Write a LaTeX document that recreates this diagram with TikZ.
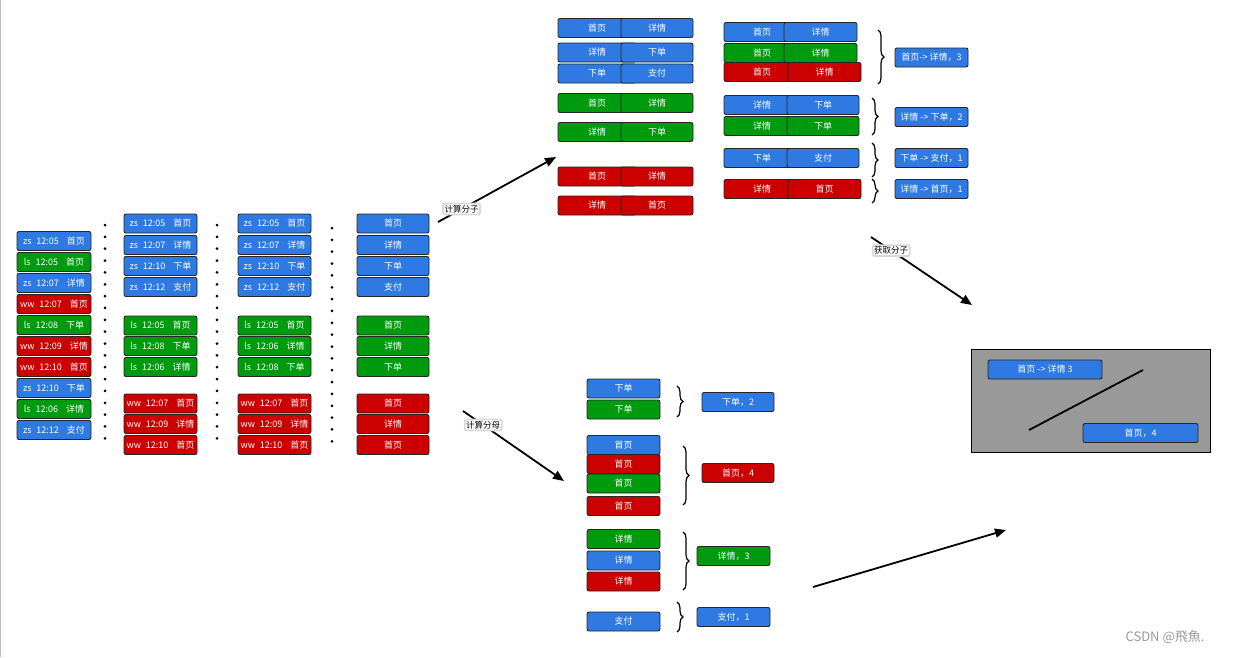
\documentclass[tikz,border=0pt]{standalone}
\usepackage{fontspec}
\setmainfont{Noto Sans CJK SC}
\usetikzlibrary{arrows.meta,decorations.pathreplacing}
\definecolor{cblue}{HTML}{2E7AE2}
\definecolor{cgreen}{HTML}{009A0E}
\definecolor{cred}{HTML}{CC0000}
\definecolor{cgray}{HTML}{999999}
\newcommand\rowtext[3]{#1\hspace{5pt}#2\hspace{8pt}#3}
\begin{document}
\begin{tikzpicture}[x=1pt,y=-1pt,
  box/.style={draw=black!85, line width=0.9pt, rounded corners=2pt, text=white,
    font=\fontsize{9}{9}\selectfont, minimum height=19pt, inner sep=0pt, anchor=center},
  bb/.style={box, fill=cblue}, bg/.style={box, fill=cgreen}, br/.style={box, fill=cred},
  w/.style={minimum width=#1},
  dotcol/.style={line width=3pt, line cap=round, dash pattern=on 0pt off 11.85pt},
  brc/.style={decorate, decoration={brace, amplitude=6pt}, line width=1.2pt},
  arr/.style={line width=1.8pt, -{Triangle[length=11pt,width=9pt]}},
  lbl/.style={fill=white, draw=black!15, rounded corners=2pt, inner sep=1.5pt, text=black,
    font=\fontsize{8.5}{8.5}\selectfont, pos=0.2}
]
\useasboundingbox (0,0) rectangle (1236,657);
\draw[black!25, line width=0.8pt] (0.5,0) -- (0.5,657);

% ---- column 1 (raw records)
\node[bb,w=74pt] (L1) at (54,241) {\rowtext{zs}{12:05}{首页}};
\node[bg,w=74pt] (L2) at (54,262) {\rowtext{ls}{12:05}{首页}};
\node[bb,w=74pt] (L3) at (54,283) {\rowtext{zs}{12:07}{详情}};
\node[br,w=74pt] (L4) at (54,304) {\rowtext{ww}{12:07}{首页}};
\node[bg,w=74pt] (L5) at (54,325) {\rowtext{ls}{12:08}{下单}};
\node[br,w=74pt] (L6) at (54,346) {\rowtext{ww}{12:09}{详情}};
\node[br,w=74pt] (L7) at (54,367) {\rowtext{ww}{12:10}{首页}};
\node[bb,w=74pt] (L8) at (54,388) {\rowtext{zs}{12:10}{下单}};
\node[bg,w=74pt] (L9) at (54,409) {\rowtext{ls}{12:06}{详情}};
\node[bb,w=74pt] (L10) at (54,430) {\rowtext{zs}{12:12}{支付}};

\draw[dotcol] (105,225) -- (105,441);
\draw[dotcol] (217,225) -- (217,441);
\draw[dotcol] (332,228) -- (332,444);

% ---- column 2 (grouped)
\node[bb,w=73pt] (M1) at (160.5,223.5) {\rowtext{zs}{12:05}{首页}};
\node[bb,w=73pt] (M2) at (160.5,245) {\rowtext{zs}{12:07}{详情}};
\node[bb,w=73pt] (M3) at (160.5,266) {\rowtext{zs}{12:10}{下单}};
\node[bb,w=73pt] (M4) at (160.5,287) {\rowtext{zs}{12:12}{支付}};
\node[bg,w=73pt] (M5) at (160.5,325.5) {\rowtext{ls}{12:05}{首页}};
\node[bg,w=73pt] (M6) at (160.5,346) {\rowtext{ls}{12:08}{下单}};
\node[bg,w=73pt] (M7) at (160.5,367) {\rowtext{ls}{12:06}{详情}};
\node[br,w=73pt] (M8) at (160.5,403.5) {\rowtext{ww}{12:07}{首页}};
\node[br,w=73pt] (M9) at (160.5,424) {\rowtext{ww}{12:09}{详情}};
\node[br,w=73pt] (M10) at (160.5,445) {\rowtext{ww}{12:10}{首页}};

% ---- column 3 (sorted)
\node[bb,w=73pt] (S1) at (274.5,223.5) {\rowtext{zs}{12:05}{首页}};
\node[bb,w=73pt] (S2) at (274.5,245) {\rowtext{zs}{12:07}{详情}};
\node[bb,w=73pt] (S3) at (274.5,266) {\rowtext{zs}{12:10}{下单}};
\node[bb,w=73pt] (S4) at (274.5,287) {\rowtext{zs}{12:12}{支付}};
\node[bg,w=73pt] (S5) at (274.5,325.5) {\rowtext{ls}{12:05}{首页}};
\node[bg,w=73pt] (S6) at (274.5,346) {\rowtext{ls}{12:06}{详情}};
\node[bg,w=73pt] (S7) at (274.5,367) {\rowtext{ls}{12:08}{下单}};
\node[br,w=73pt] (S8) at (274.5,403.5) {\rowtext{ww}{12:07}{首页}};
\node[br,w=73pt] (S9) at (274.5,424) {\rowtext{ww}{12:09}{详情}};
\node[br,w=73pt] (S10) at (274.5,445) {\rowtext{ww}{12:10}{首页}};

% ---- column 4 (pages)
\node[bb,w=72pt] (P1) at (393,223.5) {首页};
\node[bb,w=72pt] (P2) at (393,245) {详情};
\node[bb,w=72pt] (P3) at (393,266) {下单};
\node[bb,w=72pt] (P4) at (393,287) {支付};
\node[bg,w=72pt] (P5) at (393,325.5) {首页};
\node[bg,w=72pt] (P6) at (393,346) {详情};
\node[bg,w=72pt] (P7) at (393,367) {下单};
\node[br,w=72pt] (P8) at (393,403.5) {首页};
\node[br,w=72pt] (P9) at (393,424) {详情};
\node[br,w=72pt] (P10) at (393,445) {首页};

% ---- top: page pairs
\node[bb,w=78pt] (A1l) at (597,28) {首页};      \node[bb,w=72pt] (A1r) at (657,28) {详情};
\node[bb,w=78pt] (A2l) at (597,52.5) {详情};    \node[bb,w=72pt] (A2r) at (657,52.5) {下单};
\node[bb,w=78pt] (A3l) at (597,73.5) {下单};    \node[bb,w=72pt] (A3r) at (657,73.5) {支付};
\node[bg,w=78pt] (A4l) at (597,103) {首页};     \node[bg,w=72pt] (A4r) at (657,103) {详情};
\node[bg,w=78pt] (A5l) at (597,132) {详情};     \node[bg,w=72pt] (A5r) at (657,132) {下单};
\node[br,w=78pt] (A6l) at (597,176.5) {首页};   \node[br,w=72pt] (A6r) at (657,176.5) {详情};
\node[br,w=78pt] (A7l) at (597,205.5) {详情};   \node[br,w=72pt] (A7r) at (657,205.5) {首页};

% ---- top: grouped pairs
\node[bb,w=76pt] (B1l) at (762,32) {首页};    \node[bb,w=73pt] (B1r) at (820.5,32) {详情};
\node[bg,w=76pt] (B2l) at (762,53) {首页};    \node[bg,w=73pt] (B2r) at (820.5,53) {详情};
\node[br,w=76pt] (B3l) at (762,72) {首页};    \node[br,w=73pt] (B3r) at (824.5,72) {详情};
\node[bb,w=76pt] (B4l) at (762,105) {详情};   \node[bb,w=72pt] (B4r) at (823,105) {下单};
\node[bg,w=76pt] (B5l) at (762,126) {详情};   \node[bg,w=72pt] (B5r) at (823,126) {下单};
\node[bb,w=76pt] (B6l) at (762,158) {下单};   \node[bb,w=72pt] (B6r) at (823,158) {支付};
\node[br,w=76pt] (B7l) at (762,189) {详情};   \node[br,w=73pt] (B7r) at (824.5,189) {首页};

\draw[brc] (878,30) -- (878,84);
\draw[brc] (872,98) -- (872,135);
\draw[brc] (872,143) -- (872,177);
\draw[brc] (872,179) -- (872,203);

\node[bb,w=73pt] (R1) at (931.5,57.5) {首页-> 详情，3};
\node[bb,w=73pt] (R2) at (931.5,117) {详情 -> 下单，2};
\node[bb,w=73pt] (R3) at (931.5,158) {下单 -> 支付，1};
\node[bb,w=73pt] (R4) at (931.5,189) {详情 -> 首页，1};

% ---- bottom: denominators
\node[bb,w=73pt] (D1) at (623.5,388.5) {下单};
\node[bg,w=73pt] (D2) at (623.5,409.5) {下单};
\node[bb,w=73pt] (D3) at (623.5,445) {首页};
\node[br,w=73pt] (D4) at (623.5,464) {首页};
\node[bg,w=73pt] (D5) at (623.5,483.5) {首页};
\node[br,w=73pt] (D6) at (623.5,506) {首页};
\node[bg,w=73pt] (D7) at (623.5,539) {详情};
\node[bb,w=73pt] (D8) at (623.5,560.5) {详情};
\node[br,w=73pt] (D9) at (623.5,581.5) {详情};
\node[bb,w=73pt] (D10) at (623.5,621.5) {支付};

\draw[brc] (677,386) -- (677,417);
\draw[brc] (683,446) -- (683,505);
\draw[brc] (683,532) -- (683,590);
\draw[brc] (677,602) -- (677,632);

\node[bb,w=72pt] (E1) at (738,402) {下单，2};
\node[br,w=72pt] (E2) at (738,473) {首页，4};
\node[bg,w=73pt] (E3) at (733.5,556) {详情，3};
\node[bb,w=73pt] (E4) at (733.5,617) {支付，1};

% ---- result panel
\node[draw=black, line width=1pt, fill=cgray, minimum width=239pt, minimum height=103pt, inner sep=0pt] (G) at (1090.5,400.5) {};
\node[bb,w=114pt] (G1) at (1045,369.5) {首页 -> 详情 3};
\node[bb,w=115pt] (G2) at (1140.5,433) {首页，4};
\coordinate (g1) at (1029,430);
\coordinate (g2) at (1143,370);
\draw[line width=1.8pt] (g1) -- (g2);

% ---- arrows
\coordinate (a1s) at (438,222); \coordinate (a1e) at (556,157);
\coordinate (a2s) at (463,411); \coordinate (a2e) at (564,481);
\coordinate (a3s) at (871,237); \coordinate (a3e) at (972,305);
\coordinate (a4s) at (813,587); \coordinate (a4e) at (1006,530);
\draw[arr] (a1s) -- node[lbl] {计算分子} (a1e);
\draw[arr] (a2s) -- node[lbl] {计算分母} (a2e);
\draw[arr] (a3s) -- node[lbl] {获取分子} (a3e);
\draw[arr] (a4s) -- (a4e);

\node[text=black!40, font=\fontsize{13}{13}\selectfont, inner sep=0pt] (wm) at (1165,637) {CSDN @飛魚.};
\end{tikzpicture}
\end{document}
